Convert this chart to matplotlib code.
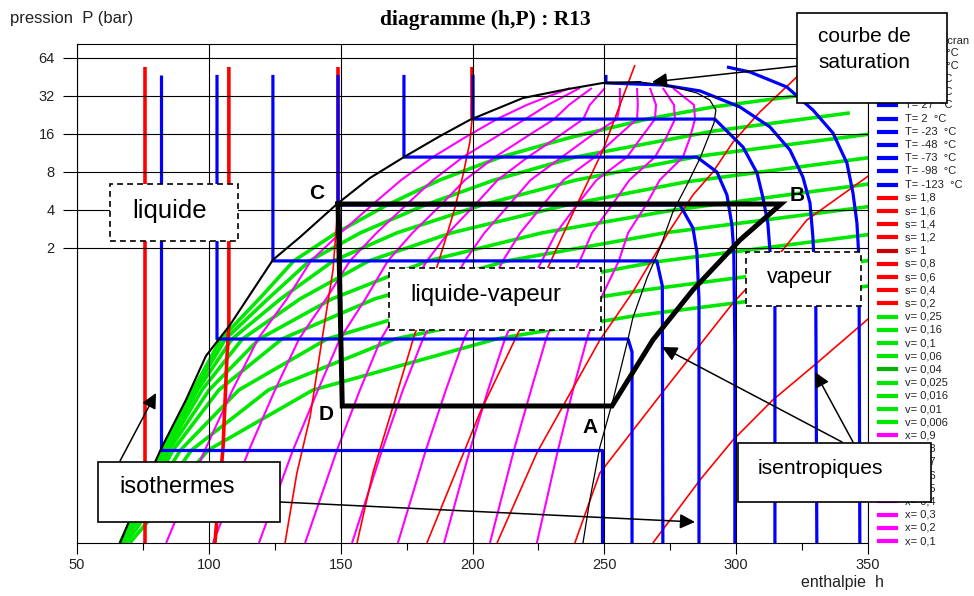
import matplotlib
matplotlib.use('Agg')
import matplotlib.pyplot as plt
from matplotlib.patches import Rectangle, FancyArrowPatch
from matplotlib.lines import Line2D
from matplotlib.ticker import FixedLocator, FixedFormatter, NullLocator

plt.rcParams['font.family'] = ['Liberation Sans', 'DejaVu Sans']

W, H = 974, 596

# ---------------- data ----------------
title_text = "diagramme (h,P) : R13"
y_label_text = "pression  P (bar)"
x_label_text = "enthalpie  h"
y_ticks = [2, 4, 8, 16, 32, 64]
y_tick_labels = ['2', '4', '8', '16', '32', '64']
x_ticks = [50, 100, 150, 200, 250, 300, 350]
x_tick_labels = ['50', '100', '150', '200', '250', '300', '350']
x_minor_ticks = [75, 125, 175, 225, 275, 325]

# saturation curve
sat_liq_h = [66.3, 73.9, 82.2, 91.3, 98.9, 108.0, 124.3, 134.6, 148.6, 161.1, 174.0, 187.7, 199.0, 219.1, 234.3, 249.5, 263.5]
sat_liq_P = [0.0092, 0.022, 0.053, 0.125, 0.279, 0.49, 1.61, 2.44, 4.46, 7.17, 10.5, 15.4, 20.7, 30.8, 35.7, 40.6, 41.3]
sat_vap_h = [263.5, 274.9, 285.1, 290.0, 292.3, 291.6, 286.3, 281.3, 276.0, 271.1, 266.2, 260.8, 258.9, 253.3, 248.3, 244.5, 241.9]
sat_vap_P = [41.3, 38.4, 33.8, 29.7, 24.8, 19.6, 10.3, 6.31, 3.86, 2.0, 1.16, 0.558, 0.373, 0.125, 0.053, 0.0202, 0.0092]

# isotherms (blue)
T_legend = [127, 102, 77, 52, 27, 2, -23, -48, -73, -98, -123]
T_drawn = [52, 27, 2, -23, -48, -73, -98, -123]
T_h = [
    [296.5, 305.2, 319.2, 329.1, 336.7, 342.0, 344.3, 345.8, 346.6, 346.9],
    [250.6, 250.6, 272.2, 286.3, 301.4, 312.8, 320.4, 325.3, 328.0, 329.1, 330.2, 330.6],
    [200.2, 200.2, 291.9, 302.6, 307.9, 310.1, 312.0, 312.8, 314.7, 314.7],
    [174.0, 174.0, 285.1, 292.7, 296.5, 298.4, 299.1, 299.5, 299.5],
    [149.0, 149.0, 278.7, 283.6, 285.1, 285.9, 285.9],
    [124.3, 124.3, 269.9, 272.0, 272.2],
    [103.1, 103.1, 259.0, 260.5, 260.5],
    [81.9, 81.9, 249.1, 249.1],
]
T_P = [
    [54.3, 49.6, 37.7, 24.8, 16.3, 9.43, 5.45, 3.16, 1.61, 0.0092],
    [47.0, 40.6, 39.1, 35.1, 26.2, 18.2, 11.95, 7.30, 4.54, 2.44, 0.775, 0.0092],
    [47.0, 21.0, 21.0, 12.6, 7.86, 5.07, 3.16, 1.93, 0.8, 0.0092],
    [47.0, 10.5, 10.5, 8.0, 5.26, 3.04, 1.86, 0.34, 0.0092],
    [47.0, 4.38, 4.38, 2.88, 1.86, 0.78, 0.0092],
    [47.0, 1.58, 1.58, 1.0, 0.0092],
    [47.0, 0.38, 0.38, 0.30, 0.0092],
    [47.0, 0.050, 0.050, 0.0092],
]

# isentropes (red)
s_legend = [1.8, 1.6, 1.4, 1.2, 1.0, 0.8, 0.6, 0.4, 0.2]
s_drawn = [1.6, 1.4, 1.2, 1.0, 0.8, 0.6, 0.4, 0.2]
s_h = [
    [362.1, 349.6, 330.6, 313.9, 298.8, 286.3, 268.4],
    [362.1, 349.6, 326.8, 317.7, 298.8, 273.7, 248.3, 238.8],
    [327.2, 323.0, 309.0, 298.8, 291.2, 283.6, 273.7, 260.8, 248.3, 224.4, 209.3],
    [261.6, 249.5, 238.1, 228.2, 219.1, 202.8, 182.7],
    [199.8, 199.8, 199.0, 196.4, 193.3, 190.3, 186.5, 177.4, 169.8, 162.2, 156.2],
    [149.0, 149.0, 147.1, 142.9, 138.4, 133.4, 128.9],
    [107.6, 107.6, 106.9, 105.4, 102.3],
    [75.8, 75.8],
]
s_P = [
    [0.896, 0.538, 0.245, 0.125, 0.0602, 0.0291, 0.0092],
    [11.3, 7.30, 3.33, 1.93, 0.734, 0.159, 0.033, 0.0092],
    [54.3, 45.3, 23.9, 13.8, 8.0, 5.26, 2.54, 0.896, 0.373, 0.0476, 0.0092],
    [56.3, 11.95, 3.79, 1.34, 0.509, 0.0988, 0.0092],
    [54.3, 20.7, 13.8, 7.57, 4.15, 2.54, 1.41, 0.373, 0.110, 0.033, 0.0092],
    [54.3, 4.46, 1.34, 0.373, 0.0917, 0.033, 0.0092],
    [54.3, 0.49, 0.28, 0.053, 0.0092],
    [54.3, 0.0092],
]

# isochores (green)
v_legend = [0.25, 0.16, 0.1, 0.06, 0.04, 0.025, 0.016, 0.01, 0.006]
v_h = [
    [70.0, 99.7, 139.5, 208.9, 261.2, 355.0],
    [68.7, 93.4, 122.6, 170.5, 243.6, 265.4, 355.0],
    [67.8, 89.2, 111.4, 144.8, 195.1, 269.2, 355.0],
    [67.2, 86.4, 103.8, 127.7, 162.9, 213.1, 272.6, 355.0],
    [66.9, 84.9, 100.1, 119.1, 146.7, 183.1, 226.2, 276.4, 355.0],
    [66.7, 83.9, 97.4, 112.7, 134.6, 160.7, 191.9, 235.8, 280.9, 355.0],
    [66.5, 83.4, 95.7, 108.8, 127.2, 147.2, 171.2, 203.6, 239.2, 286.3, 355.0],
    [66.5, 83.0, 94.6, 106.3, 122.4, 138.2, 157.4, 182.0, 208.2, 239.0, 291.6, 343.1],
    [66.4, 82.6, 94.0, 104.6, 119.1, 132.2, 148.3, 167.6, 187.5, 210.7, 237.0, 266.2, 291.2, 337.5],
]
v_P = [
    [0.0092, 0.050, 0.15, 0.38, 0.579, 1.03],
    [0.0092, 0.050, 0.15, 0.38, 0.79, 0.93, 1.64],
    [0.0092, 0.050, 0.15, 0.38, 0.79, 1.55, 2.63],
    [0.0092, 0.050, 0.15, 0.38, 0.79, 1.58, 2.63, 4.38],
    [0.0092, 0.050, 0.15, 0.38, 0.79, 1.58, 2.63, 4.0, 6.62],
    [0.0092, 0.050, 0.15, 0.38, 0.79, 1.58, 2.63, 4.38, 6.67, 10.7],
    [0.0092, 0.050, 0.15, 0.38, 0.79, 1.58, 2.63, 4.38, 6.9, 10.7, 16.4],
    [0.0092, 0.050, 0.15, 0.38, 0.79, 1.58, 2.63, 4.38, 6.9, 10.5, 16.9, 23.5],
    [0.0092, 0.050, 0.15, 0.38, 0.79, 1.58, 2.63, 4.38, 6.9, 10.5, 15.0, 21.0, 26.2, 35.1],
]

# quality lines (magenta)
x_legend = [0.9, 0.8, 0.7, 0.6, 0.5, 0.4, 0.3, 0.2, 0.1]
xq_P = [0.0092, 0.050, 0.15, 0.38, 0.79, 1.58, 2.63, 4.38, 6.9, 10.5, 15.0, 21.0, 27.2, 37.0]
xq_h = [
    [224.4, 232.4, 238.1, 243.4, 248.6, 255.5, 259.0, 265.8, 271.0, 279.8, 282.5, 284.4, 284.0, 276.0],
    [206.6, 215.7, 222.2, 227.9, 233.8, 240.7, 245.3, 252.9, 259.5, 269.2, 273.5, 276.8, 276.4, 272.2],
    [189.2, 199.0, 205.9, 212.3, 218.9, 226.3, 231.7, 239.6, 247.0, 258.6, 264.0, 269.2, 269.6, 267.3],
    [171.7, 182.3, 189.9, 196.8, 204.0, 211.5, 218.1, 226.7, 234.5, 246.4, 254.5, 262.4, 262.7, 262.4],
    [154.3, 165.7, 173.6, 181.2, 189.2, 197.1, 204.5, 213.8, 222.0, 233.9, 244.0, 254.8, 255.9, 255.9],
    [136.5, 148.6, 157.3, 165.3, 174.3, 182.7, 190.8, 200.9, 209.5, 221.0, 232.0, 242.0, 244.5, 250.2],
    [119.0, 131.9, 141.4, 149.7, 159.4, 167.9, 177.2, 188.0, 197.1, 208.5, 220.0, 231.0, 236.6, 245.3],
    [101.6, 115.2, 125.1, 134.2, 144.5, 153.5, 163.6, 174.8, 185.0, 196.4, 208.5, 220.0, 228.6, 240.7],
    [83.8, 98.5, 109.0, 118.6, 129.6, 138.7, 149.9, 161.9, 172.9, 185.0, 197.1, 209.3, 220.6, 237.0],
]

# refrigeration cycle C -> B -> A -> D -> C
cycle_h = [149.0, 317.0, 301.4, 283.6, 268.4, 252.9, 150.6, 149.0]
cycle_P = [4.46, 4.46, 2.31, 0.93, 0.373, 0.112, 0.112, 4.46]
cycle_point_names = ['C', 'B', 'A', 'D']
cycle_point_h = [149.0, 317.0, 252.9, 150.6]
cycle_point_P = [4.46, 4.46, 0.112, 0.112]

# ---------------- figure ----------------
BLUE = '#0000ff'
RED = '#ff0000'
GREEN = '#00e800'
MAG = '#ff00ff'
TXT = '#222222'

fig = plt.figure(figsize=(W / 100, H / 100), dpi=100)
fig.patch.set_facecolor('white')
ax = fig.add_axes([77 / W, 1 - 543 / H, (868 - 77) / W, (543 - 44) / H])
ax.set_yscale('log', base=2)
ax.set_xlim(50, 350)
ax.set_ylim(0.0092, 82.6)

# curves
for hh, pp in zip(v_h, v_P):
    ax.plot(hh, pp, color=GREEN, lw=2.6, zorder=2.0, solid_capstyle='butt')
for hh in xq_h:
    ax.plot(hh, xq_P, color=MAG, lw=1.5, zorder=2.05, solid_capstyle='butt')
s_thick_n = [0, 0, 0, 0, 2, 2, 5, 2]
for hh, pp, n in zip(s_h, s_P, s_thick_n):
    ax.plot(hh, pp, color=RED, lw=1.2, zorder=2.1, solid_capstyle='butt')
    if n:
        ax.plot(hh[:n], pp[:n], color=RED, lw=2.6, zorder=2.1, solid_capstyle='butt')
for hh, pp in zip(T_h, T_P):
    ax.plot(hh, pp, color=BLUE, lw=2.3, zorder=2.15, solid_capstyle='butt')
ax.plot(sat_liq_h, sat_liq_P, color='k', lw=1.5, zorder=2.2)
ax.plot(sat_vap_h, sat_vap_P, color='k', lw=0.9, zorder=2.2)
ax.plot(cycle_h, cycle_P, color='k', lw=3.6, zorder=2.3, solid_joinstyle='miter')

label_offsets = [(-21, 11), (16, 9), (-22, -22), (-16, -9)]
for name, hh, pp, off in zip(cycle_point_names, cycle_point_h, cycle_point_P, label_offsets):
    ax.annotate(name, (hh, pp), xytext=off, textcoords='offset pixels',
                ha='center', va='center', fontsize=15, fontweight='bold', color='k', zorder=4)

# axes styling
ax.yaxis.set_major_locator(FixedLocator(y_ticks))
ax.yaxis.set_major_formatter(FixedFormatter(y_tick_labels))
ax.yaxis.set_minor_locator(NullLocator())
ax.xaxis.set_major_locator(FixedLocator(x_ticks))
ax.xaxis.set_major_formatter(FixedFormatter(x_tick_labels))
ax.xaxis.set_minor_locator(FixedLocator(x_minor_ticks))
ax.set_axisbelow(False)
ax.grid(True, which='major', color='k', lw=0.8)
ax.tick_params(axis='y', which='major', length=10, width=0.8, pad=6, labelsize=10.5, labelcolor=TXT)
ax.tick_params(axis='x', which='major', length=8, width=0.8, pad=3, labelsize=10.5, labelcolor=TXT)
ax.tick_params(axis='x', which='minor', length=5, width=0.8)
for sp in ax.spines.values():
    sp.set_linewidth(0.8)
    sp.set_color('k')


def fx(x):
    return x / W


def fy(y):
    return 1 - y / H


fig.text(fx(10), fy(18), y_label_text, fontsize=12, ha='left', va='center', color=TXT)
fig.text(fx(842), fy(583), x_label_text, fontsize=11.5, ha='center', va='center', color=TXT)
fig.text(fx(485), fy(20), title_text, family=['Liberation Serif', 'DejaVu Serif'],
         fontweight='bold', fontsize=15.5, ha='center', va='center', color='k')

# legend (right side)
rows = []
for T in T_legend:
    rows.append((f"T= {T}  °C", BLUE))
for s in s_legend:
    rows.append((f"s= {s:g}".replace('.', ','), '#c80000' if s == 1.0 else RED))
for v in v_legend:
    rows.append((f"v= {v:g}".replace('.', ','), '#00b400' if v == 0.04 else GREEN))
for q in x_legend:
    rows.append((f"x= {q:g}".replace('.', ','), MAG))
for i, (lab, col) in enumerate(rows):
    yy = 52.6 + 13.2 * i
    fig.add_artist(Line2D([fx(879), fx(896)], [fy(yy), fy(yy)], color=col, lw=3,
                          transform=fig.transFigure, zorder=3))
    fig.text(fx(905), fy(yy), lab, fontsize=8, ha='left', va='center', color=TXT, zorder=3)
fig.text(fx(941), fy(41), "écran", fontsize=8, ha='left', va='center', color=TXT, zorder=3)


# annotation boxes
def box(x0, y0, x1, y1, dashed):
    r = Rectangle((fx(x0), fy(y1)), (x1 - x0) / W, (y1 - y0) / H, transform=fig.transFigure,
                  fc='white', ec='k', lw=1.2, ls=(0, (3.5, 2.5)) if dashed else '-', zorder=10)
    fig.add_artist(r)


def btext(x, y, s, size):
    fig.text(fx(x), fy(y), s, fontsize=size, ha='left', va='center', color='k', zorder=11)


def arrow(x0, y0, x1, y1):
    a = FancyArrowPatch((fx(x0), fy(y0)), (fx(x1), fy(y1)), transform=fig.transFigure,
                        arrowstyle='-|>,head_length=0.65,head_width=0.32', mutation_scale=14,
                        color='k', lw=1.1, shrinkA=0, shrinkB=0, zorder=9)
    fig.add_artist(a)


arrow(798, 66, 652, 82)
arrow(120, 461, 156, 393)
arrow(280, 502, 695, 522)
arrow(842, 442, 662, 347)
arrow(853, 442, 815, 372)

box(797, 13, 947, 103, False)
btext(818, 37, "courbe de", 15)
btext(818, 62, "saturation", 15)
box(738, 443, 931, 502, False)
btext(758, 468, "isentropiques", 15.2)
box(98, 462, 280, 522, False)
btext(119, 487, "isothermes", 17)
box(110, 184, 238, 241, True)
btext(132, 211, "liquide", 18.5)
box(389, 268, 601, 330, True)
btext(410, 295, "liquide-vapeur", 17.3)
box(746, 252, 861, 306, True)
btext(767, 277, "vapeur", 15.5)

fig.savefig('out.png', dpi=100)
